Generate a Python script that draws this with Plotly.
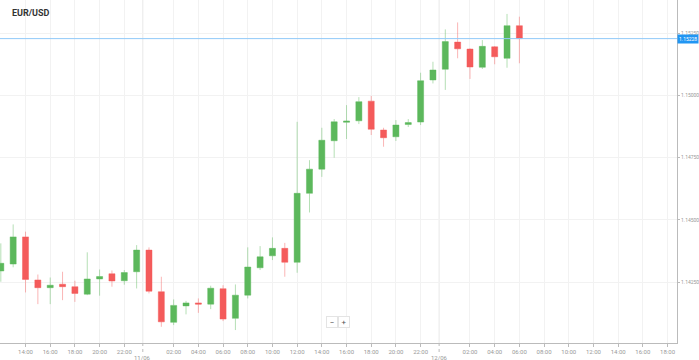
import pandas as pd
import plotly.graph_objects as go

# Hourly EUR/USD candles, 10/06 12:00 -> 12/06 06:00
times = pd.date_range("2020-06-10 12:00", "2020-06-12 06:00", freq="h")

opens = [1.14295, 1.14323, 1.14432, 1.14259, 1.14228, 1.14242, 1.14232, 1.14202, 1.14263, 1.14284,
         1.14256, 1.14292, 1.14379, 1.14212, 1.14089, 1.14155, 1.14167, 1.14162, 1.14224, 1.14105,
         1.14198, 1.14308, 1.14356, 1.14386, 1.14330, 1.14607, 1.14704, 1.14818, 1.14892, 1.14898,
         1.14977, 1.14861, 1.14834, 1.14883, 1.14893, 1.15062, 1.15105, 1.15214, 1.15186, 1.15113,
         1.15195, 1.15149, 1.15280]
highs = [1.14406, 1.14482, 1.14453, 1.14281, 1.14269, 1.14292, 1.14256, 1.14370, 1.14301, 1.14297,
         1.14299, 1.14399, 1.14390, 1.14272, 1.14181, 1.14175, 1.14185, 1.14236, 1.14238, 1.14241,
         1.14390, 1.14395, 1.14430, 1.14408, 1.14894, 1.14740, 1.14870, 1.14905, 1.14961, 1.14993,
         1.14998, 1.14870, 1.14901, 1.14905, 1.15091, 1.15135, 1.15265, 1.15293, 1.15189, 1.15222,
         1.15198, 1.15327, 1.15316]
lows = [1.14252, 1.14310, 1.14209, 1.14162, 1.14162, 1.14178, 1.14171, 1.14198, 1.14196, 1.14232,
        1.14240, 1.14225, 1.14205, 1.14071, 1.14078, 1.14121, 1.14127, 1.14142, 1.14094, 1.14058,
        1.14185, 1.14299, 1.14339, 1.14272, 1.14288, 1.14530, 1.14673, 1.14750, 1.14825, 1.14885,
        1.14841, 1.14794, 1.14817, 1.14873, 1.14881, 1.15048, 1.15022, 1.15149, 1.15066, 1.15106,
        1.15125, 1.15111, 1.15129]
closes = [1.14326, 1.14432, 1.14261, 1.14228, 1.14238, 1.14232, 1.14205, 1.14263, 1.14273, 1.14255,
          1.14289, 1.14379, 1.14214, 1.14091, 1.14157, 1.14167, 1.14162, 1.14226, 1.14102, 1.14198,
          1.14311, 1.14352, 1.14386, 1.14330, 1.14607, 1.14704, 1.14820, 1.14894, 1.14897, 1.14975,
          1.14864, 1.14830, 1.14881, 1.14891, 1.15059, 1.15102, 1.15216, 1.15187, 1.15114, 1.15197,
          1.15155, 1.15280, 1.15228]

y_ticks = [1.14250, 1.14500, 1.14750, 1.15000, 1.15250]
y_tick_labels = ["%.5f" % v for v in y_ticks]

x_tick_times = [t for t in pd.date_range("2020-06-10 14:00", "2020-06-12 18:00", freq="2h") if t.hour != 0]
x_tick_labels = [t.strftime("%H:%M") for t in x_tick_times]

date_marks = [pd.Timestamp("2020-06-10 23:30"), pd.Timestamp("2020-06-11 23:30")]
date_labels = ["11/06", "12/06"]

title = "EUR/USD"
current_price = closes[-1]

fig = go.Figure()
fig.add_trace(go.Candlestick(
    x=times, open=opens, high=highs, low=lows, close=closes,
    increasing=dict(line=dict(color="rgba(92,184,92,0.45)", width=1), fillcolor="#5cb85c"),
    decreasing=dict(line=dict(color="rgba(244,91,91,0.45)", width=1), fillcolor="#f45b5b"),
    whiskerwidth=0, showlegend=False, hoverinfo="skip",
))

font = "Roboto, Noto Sans, sans-serif"
shapes = []
annotations = []
for d, lab in zip(date_marks, date_labels):
    shapes.append(dict(type="line", xref="x", yref="paper", x0=d, x1=d, y0=0, y1=1,
                       line=dict(color="#e8e8e8", width=1), layer="below"))
    shapes.append(dict(type="line", xref="x", yref="paper", x0=d, x1=d, y0=0, y1=-0.028,
                       line=dict(color="#bbbbbb", width=1, dash="dot")))
    annotations.append(dict(x=d, y=-0.041, xref="x", yref="paper", text=lab, showarrow=False,
                            xanchor="center", yanchor="middle",
                            font=dict(family=font, size=6, color="#999999")))

shapes.append(dict(type="line", xref="paper", yref="y", x0=0, x1=1, y0=current_price, y1=current_price,
                   line=dict(color="#90caf9", width=1)))
annotations.append(dict(x=1, y=current_price, xref="paper", yref="y", text="%.5f" % current_price,
                        showarrow=False, xanchor="left", yanchor="middle", xshift=0,
                        bgcolor="#2196f3", borderpad=1,
                        font=dict(family=font, size=5, color="white")))
annotations.append(dict(x=10 / 677, y=(343 - 13) / 343, xref="paper", yref="paper", text="<b>%s</b>" % title,
                        showarrow=False, xanchor="left", yanchor="middle",
                        font=dict(family=font, size=9, color="#333333")))
for sym, px in [("\u2212", 332), ("+", 344)]:
    annotations.append(dict(x=px / 677, y=(343 - 322) / 343, xref="paper", yref="paper", text=sym,
                            showarrow=False, xanchor="center", yanchor="middle",
                            bgcolor="white", bordercolor="#e4e4e4", borderwidth=1, borderpad=1,
                            width=8, height=8,
                            font=dict(family=font, size=8, color="#555555")))

fig.update_layout(
    template="none",
    width=699, height=360,
    margin=dict(l=0, r=22, t=0, b=17),
    paper_bgcolor="white", plot_bgcolor="white",
    showlegend=False,
    shapes=shapes, annotations=annotations,
    xaxis=dict(
        type="date",
        range=["2020-06-10 11:56", "2020-06-12 18:46"],
        rangeslider=dict(visible=False),
        tickvals=x_tick_times, ticktext=x_tick_labels,
        showgrid=True, gridcolor="#f2f2f2", gridwidth=1,
        ticks="outside", ticklen=3, tickcolor="#bbbbbb",
        showline=True, linecolor="#bbbbbb", linewidth=1,
        tickfont=dict(family=font, size=6, color="#999999"),
        zeroline=False, automargin=False, fixedrange=True,
    ),
    yaxis=dict(
        side="right",
        range=[1.14006, 1.15383],
        tickvals=y_ticks, ticktext=y_tick_labels,
        showgrid=True, gridcolor="#f2f2f2", gridwidth=1,
        ticks="outside", ticklen=2, tickcolor="#bbbbbb",
        showline=True, linecolor="#bbbbbb", linewidth=1,
        tickfont=dict(family=font, size=5, color="#999999"),
        zeroline=False, automargin=False, fixedrange=True,
    ),
)

fig.write_html("out.html", config={"displayModeBar": False},
               post_script="document.body.style.margin='0';document.body.style.overflow='hidden';")
